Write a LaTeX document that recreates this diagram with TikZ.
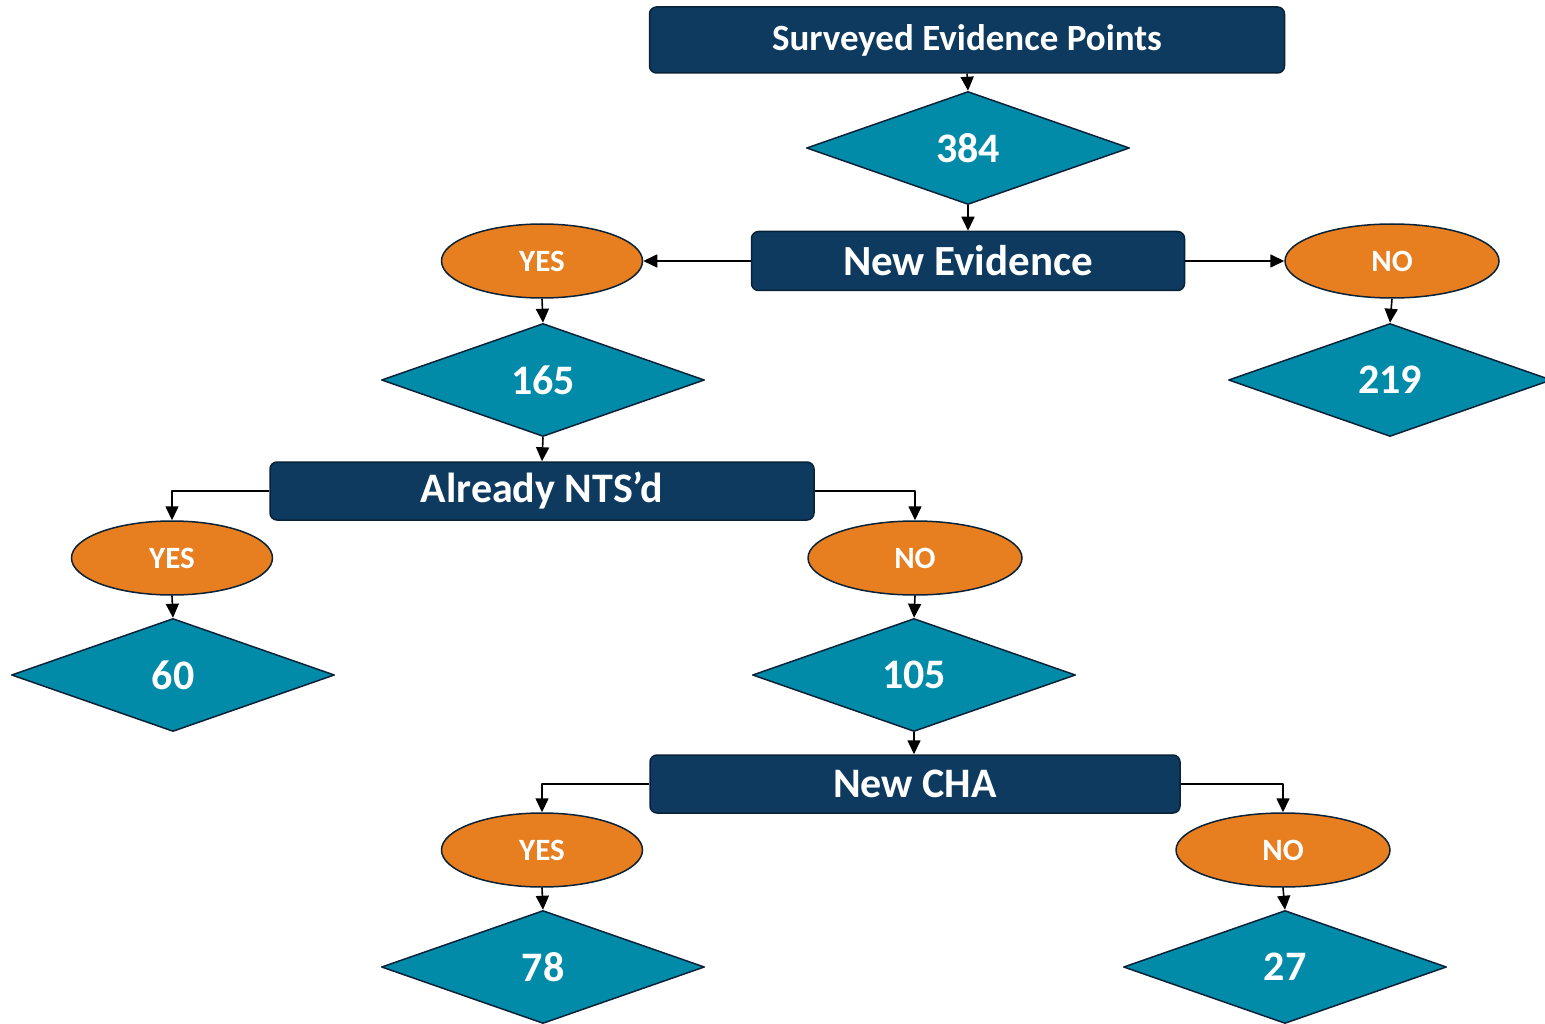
\documentclass[tikz,border=0pt]{standalone}
\usepackage{fontspec}
\setmainfont{Carlito}
\usetikzlibrary{shapes.geometric,arrows.meta}
\definecolor{navy}{HTML}{0D3A5E}
\definecolor{teal}{HTML}{028BA8}
\definecolor{orng}{HTML}{E77E1F}
\definecolor{edge}{HTML}{0A2238}
\begin{document}
\begin{tikzpicture}[x=1pt, y=-1pt, line join=round, font=\bfseries, >={Triangle[length=14pt,width=13pt]},
	box/.style={rectangle, rounded corners=7pt, fill=navy, draw=edge, line width=1.5pt, text=white, minimum height=59pt},
	rhomb/.style={diamond, fill=teal, draw=edge, line width=1.5pt, text=white, inner sep=0pt, minimum width=323pt, minimum height=113pt, font=\bfseries\fontsize{42}{42}\selectfont},
	oval/.style={ellipse, fill=orng, draw=edge, line width=1.5pt, text=white, inner sep=0pt, minimum height=74pt, font=\bfseries\fontsize{31}{31}\selectfont},
	link/.style={->, line width=1.6pt}]
	\useasboundingbox (0,0) rectangle (1545,1024);
	% hang 1
	\node[box, minimum width=635pt, minimum height=66pt, font=\bfseries\fontsize{37}{37}\selectfont] (survey) at (967,40) {Surveyed Evidence Points};
	\node[rhomb] (n384) at (968,148) {384};
	\node[box, minimum width=433pt, font=\bfseries\fontsize{43}{43}\selectfont] (newev) at (968,261) {New Evidence};
	\node[oval, minimum width=201pt] (yesA) at (542,261) {YES};
	\node[oval, minimum width=214pt] (noA) at (1392,261) {NO};
	\node[rhomb] (n165) at (543,380) {165};
	\node[rhomb] (n219) at (1390,380) {219};
	% hang 2
	\node[box, minimum width=544pt, minimum height=58pt, font=\bfseries\fontsize{42}{42}\selectfont] (nts) at (542,491) {Already NTS’d};
	\node[oval, minimum width=201pt] (yesB) at (172,558) {YES};
	\node[oval, minimum width=214pt] (noB) at (915,558) {NO};
	\node[rhomb] (n60) at (173,675) {60};
	\node[rhomb] (n105) at (914,675) {105};
	% hang 3
	\node[box, minimum width=530pt, minimum height=58pt, font=\bfseries\fontsize{42}{42}\selectfont] (cha) at (915,784) {New CHA};
	\node[oval, minimum width=201pt] (yesC) at (542,850) {YES};
	\node[oval, minimum width=214pt] (noC) at (1283,850) {NO};
	\node[rhomb] (n78) at (543,967) {78};
	\node[rhomb] (n27) at (1285,967) {27};
	% mui ten
	\draw[link] (survey.south) -- (n384.north);
	\draw[link] (n384.south) -- (newev.north);
	\draw[link] (newev.west) -- (yesA.east);
	\draw[link] (newev.east) -- (noA.west);
	\draw[link] (yesA.south) -- (n165.north);
	\draw[link] (noA.south) -- (n219.north);
	\draw[link] (n165.south) -- (nts.north);
	\draw[link] (nts.west) -| (yesB.north);
	\draw[link] (nts.east) -| (noB.north);
	\draw[link] (yesB.south) -- (n60.north);
	\draw[link] (noB.south) -- (n105.north);
	\draw[link] (n105.south) -- (n105.south |- cha.north);
	\draw[link] (cha.west) -| (yesC.north);
	\draw[link] (cha.east) -| (noC.north);
	\draw[link] (yesC.south) -- (n78.north);
	\draw[link] (noC.south) -- (n27.north);
\end{tikzpicture}
\end{document}
